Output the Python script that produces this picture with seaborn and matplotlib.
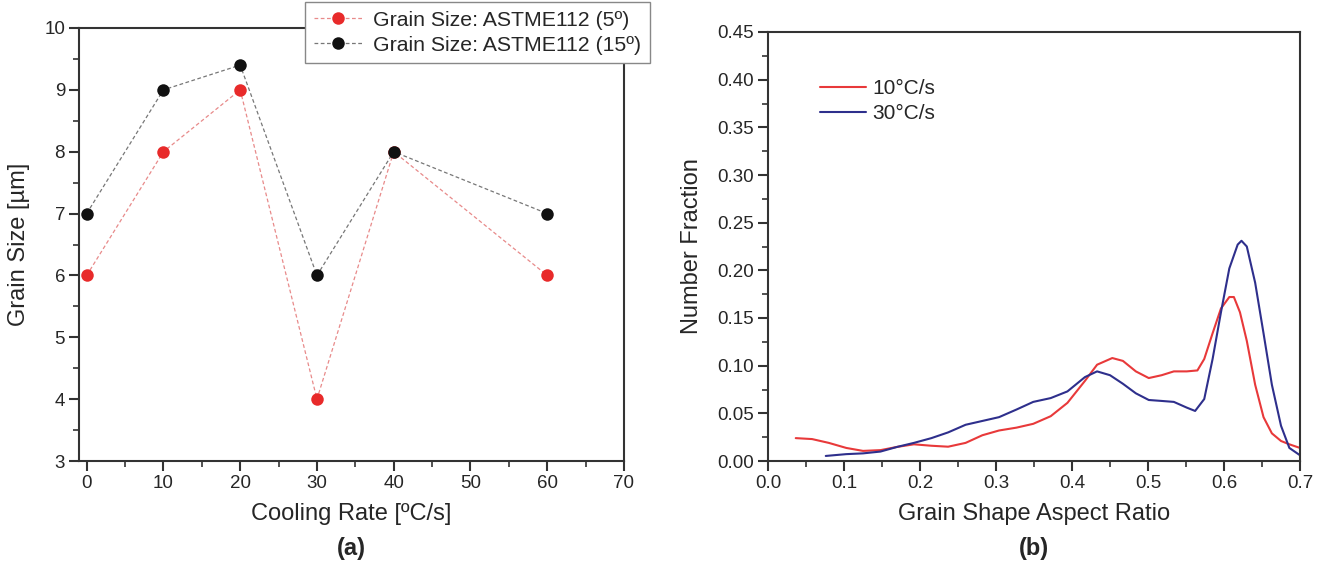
import numpy as np
import pandas as pd
import matplotlib
matplotlib.use("Agg")
import matplotlib.pyplot as plt
import seaborn as sns
from matplotlib.ticker import MultipleLocator, FormatStrFormatter
from matplotlib.lines import Line2D

sns.set_style("ticks")
plt.rcParams['font.family'] = ['Liberation Sans', 'DejaVu Sans']

# ---- Panel (a) data ----
cooling_rate = [0, 10, 20, 30, 40, 60]
grain_5deg = [6, 8, 9, 4, 8, 6]
grain_15deg = [7, 9, 9.4, 6, 8, 7]
label_5 = "Grain Size: ASTME112 (5º)"
label_15 = "Grain Size: ASTME112 (15º)"

# ---- Panel (b) data ----
ar_10 = [0.0365, 0.058, 0.080, 0.103, 0.125, 0.148, 0.170, 0.192, 0.215, 0.237,
         0.260, 0.282, 0.304, 0.327, 0.349, 0.372, 0.394, 0.417, 0.433, 0.453,
         0.467, 0.484, 0.501, 0.518, 0.534, 0.551, 0.565, 0.574, 0.585, 0.596,
         0.607, 0.613, 0.621, 0.630, 0.641, 0.652, 0.663, 0.675, 0.686, 0.700]
nf_10 = [0.024, 0.023, 0.019, 0.0137, 0.0106, 0.0114, 0.0148, 0.0175, 0.016, 0.015,
         0.019, 0.027, 0.032, 0.035, 0.039, 0.047, 0.061, 0.084, 0.101, 0.108,
         0.105, 0.094, 0.087, 0.090, 0.094, 0.094, 0.095, 0.107, 0.134, 0.160,
         0.172, 0.172, 0.156, 0.126, 0.080, 0.046, 0.029, 0.021, 0.0175, 0.0137]
ar_30 = [0.076, 0.103, 0.125, 0.148, 0.170, 0.192, 0.215, 0.237, 0.260, 0.282,
         0.304, 0.327, 0.349, 0.372, 0.394, 0.417, 0.433, 0.450, 0.467, 0.484,
         0.501, 0.518, 0.534, 0.551, 0.562, 0.574, 0.585, 0.596, 0.607, 0.618,
         0.623, 0.630, 0.641, 0.652, 0.663, 0.675, 0.686, 0.700]
nf_30 = [0.0053, 0.0072, 0.008, 0.0099, 0.0148, 0.019, 0.024, 0.030, 0.038, 0.042,
         0.046, 0.054, 0.062, 0.066, 0.073, 0.088, 0.094, 0.090, 0.081, 0.071,
         0.064, 0.063, 0.062, 0.056, 0.0525, 0.065, 0.107, 0.156, 0.202, 0.227,
         0.231, 0.225, 0.187, 0.134, 0.080, 0.037, 0.0137, 0.006]
label_10 = "10°C/s"
label_30 = "30°C/s"

W, H = 1327, 569
fig = plt.figure(figsize=(W / 100, H / 100), dpi=100)

def px_axes(l, r, t, b):
    return fig.add_axes([l / W, 1 - b / H, (r - l) / W, (b - t) / H])

spine_col = "#333333"

def style_axes(ax):
    for s in ax.spines.values():
        s.set_visible(True)
        s.set_color(spine_col)
        s.set_linewidth(1.5)
    ax.tick_params(which='major', direction='out', length=7, width=1.5,
                   color=spine_col, labelsize=13.5, pad=3, top=False, right=False)
    ax.tick_params(which='minor', direction='out', length=4, width=1.2,
                   color=spine_col, top=False, right=False)

# ---- Panel (a) ----
ax1 = px_axes(79, 624, 28, 461)
df_a = pd.DataFrame({"x": cooling_rate * 2,
                     "y": grain_5deg + grain_15deg,
                     "s": [label_5] * 6 + [label_15] * 6})
sns.lineplot(data=df_a, x="x", y="y", hue="s",
             palette={label_5: "#e82a2a", label_15: "#111111"},
             marker="o", markersize=9, markeredgewidth=0,
             linestyle=(0, (3, 2)), linewidth=0.9, ax=ax1, legend=False)
for ln, c, mc in zip(ax1.lines, ["#e88a8a", "#777777"], ["#e82a2a", "#111111"]):
    ln.set_color(c)
    ln.set_markerfacecolor(mc)
    ln.set_markeredgecolor(mc)
ax1.set_xlim(-1, 70)
ax1.set_ylim(3, 10)
ax1.xaxis.set_major_locator(MultipleLocator(10))
ax1.xaxis.set_minor_locator(MultipleLocator(5))
ax1.yaxis.set_major_locator(MultipleLocator(1))
ax1.yaxis.set_minor_locator(MultipleLocator(0.5))
style_axes(ax1)
ax1.set_xlabel("Cooling Rate [ºC/s]", fontsize=17, labelpad=8)
ax1.set_ylabel("Grain Size [µm]", fontsize=17, labelpad=10)

h5 = Line2D([], [], color="#e88a8a", linestyle=(0, (3, 2)), linewidth=0.9,
            marker="o", markersize=9, markerfacecolor="#e82a2a", markeredgewidth=0)
h15 = Line2D([], [], color="#777777", linestyle=(0, (3, 2)), linewidth=0.9,
             marker="o", markersize=9, markerfacecolor="#111111", markeredgewidth=0)
leg1 = ax1.legend([h5, h15], [label_5, label_15], loc="upper right",
                  bbox_to_anchor=(650 / W, 1 - 2 / H), bbox_transform=fig.transFigure,
                  fontsize=15.3, frameon=True, fancybox=False, handlelength=2.3,
                  borderpad=0.4, labelspacing=0.3, handletextpad=0.5,
                  borderaxespad=0)
leg1.get_frame().set_edgecolor("#888888")
leg1.get_frame().set_linewidth(1.0)
leg1.get_frame().set_alpha(1)

fig.text(351 / W, 1 - 549 / H, "(a)", ha="center", va="center",
         fontsize=17, fontweight="bold")

# ---- Panel (b) ----
ax2 = px_axes(768, 1300, 32, 461)
df_b = pd.DataFrame({"x": ar_10 + ar_30,
                     "y": nf_10 + nf_30,
                     "s": [label_10] * len(ar_10) + [label_30] * len(ar_30)})
sns.lineplot(data=df_b, x="x", y="y", hue="s",
             palette={label_10: "#e8393a", label_30: "#2e2f8c"},
             linewidth=1.5, ax=ax2, legend=False)
ax2.set_xlim(0, 0.7)
ax2.set_ylim(0, 0.45)
ax2.xaxis.set_major_locator(MultipleLocator(0.1))
ax2.xaxis.set_minor_locator(MultipleLocator(0.05))
ax2.yaxis.set_major_locator(MultipleLocator(0.05))
ax2.yaxis.set_minor_locator(MultipleLocator(0.025))
ax2.xaxis.set_major_formatter(FormatStrFormatter("%.1f"))
ax2.yaxis.set_major_formatter(FormatStrFormatter("%.2f"))
style_axes(ax2)
ax2.set_xlabel("Grain Shape Aspect Ratio", fontsize=17, labelpad=8)
ax2.set_ylabel("Number Fraction", fontsize=17, labelpad=10)
hb1 = Line2D([], [], color="#e8393a", linewidth=1.5)
hb2 = Line2D([], [], color="#2e2f8c", linewidth=1.5)
ax2.legend([hb1, hb2], [label_10, label_30], loc="center left",
           bbox_to_anchor=(820 / W, 1 - 101 / H), bbox_transform=fig.transFigure,
           fontsize=15, frameon=False, borderaxespad=0, borderpad=0,
           handlelength=2.2, labelspacing=0.3, handletextpad=0.3)

fig.text(1034 / W, 1 - 549 / H, "(b)", ha="center", va="center",
         fontsize=17, fontweight="bold")

fig.savefig("out.png", dpi=100)
